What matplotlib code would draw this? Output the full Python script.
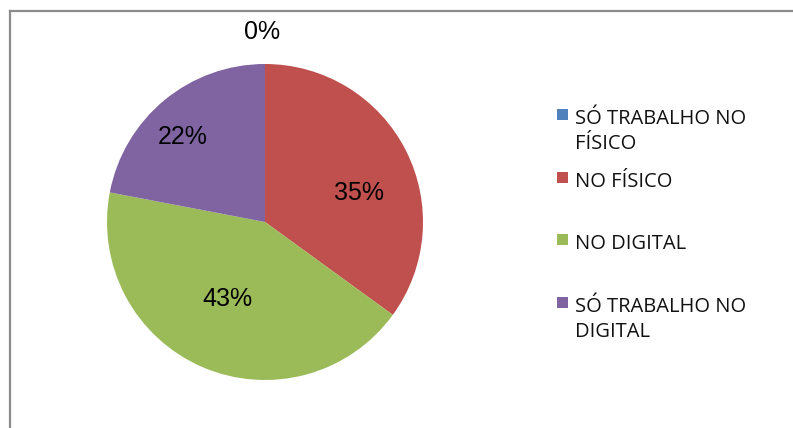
import numpy as np
import matplotlib
matplotlib.use("Agg")
import matplotlib.pyplot as plt
from matplotlib.lines import Line2D
from matplotlib.patches import Rectangle

# shares of each answer (percent)
categories = ["SÓ TRABALHO NO\nFÍSICO", "NO FÍSICO", "NO DIGITAL", "SÓ TRABALHO NO\nDIGITAL"]
values = [0, 35, 43, 22]
colors = ["#4F81BD", "#C0504D", "#9BBB59", "#8064A2"]

# where each percentage label sits: (angle in degrees, distance from centre)
label_spots = [(91, 1.20), (17, 0.62), (-116, 0.54), (134, 0.75)]

W, H = 793, 428
fig = plt.figure(figsize=(W / 100, H / 100), dpi=100)

# chart area border (left and top edges visible)
fig.add_artist(Line2D([10 / W, 10 / W], [0, 1 - 11 / H], color="#8c8c8c", lw=1.6))
fig.add_artist(Line2D([10 / W, 1], [1 - 11 / H, 1 - 11 / H], color="#8c8c8c", lw=1.6))

cx, cy, r = 265, 222, 158
ax = fig.add_axes([(cx - r) / W, (H - cy - r) / H, 2 * r / W, 2 * r / H])
ax.pie(values, colors=colors, startangle=90, counterclock=False, radius=1,
       wedgeprops=dict(linewidth=0))
ax.set_xlim(-1, 1)
ax.set_ylim(-1, 1)
ax.set_aspect("equal")
ax.axis("off")

for v, (ang, dist) in zip(values, label_spots):
    a = np.deg2rad(ang)
    ax.text(dist * np.cos(a), dist * np.sin(a), f"{v}%", ha="center", va="center",
            fontsize=18, family="Liberation Sans", color="black", clip_on=False)

# legend: entries every ~63 px, wrapped lines 25 px apart
for i, (lab, col) in enumerate(zip(categories, colors)):
    base = 124 + i * 62.7
    fig.add_artist(Rectangle((557 / W, 1 - (base - 4) / H), 11 / W, 11 / H,
                             facecolor=col, edgecolor="none"))
    for k, line in enumerate(lab.split("\n")):
        fig.text(575 / W, 1 - (base + 25 * k) / H, line, ha="left", va="baseline",
                 fontsize=14.5, family="Open Sans", color="#111111")

fig.savefig("out.png", dpi=100)
